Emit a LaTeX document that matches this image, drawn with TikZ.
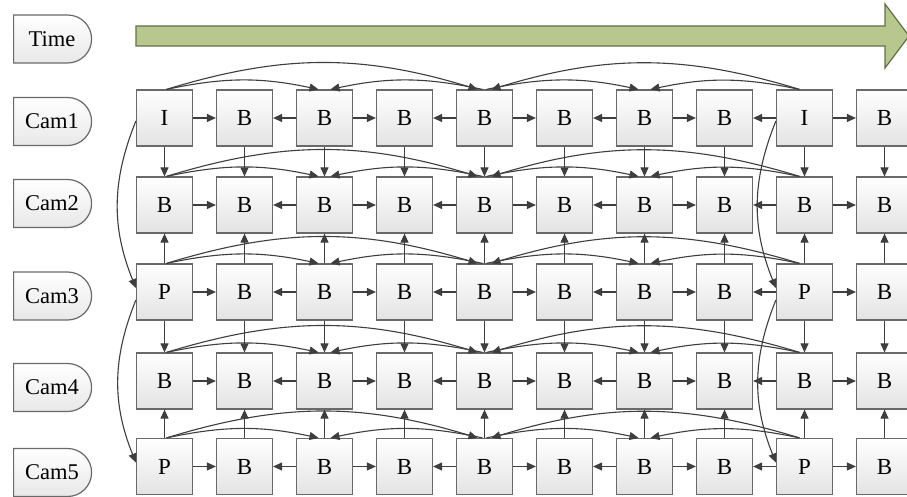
\documentclass[tikz,border=0pt]{standalone}
\usepackage{fontspec}
\setmainfont{Liberation Serif}
\usetikzlibrary{arrows.meta,shapes.misc,calc}
\definecolor{arrowgreen}{RGB}{184,199,142}
\definecolor{arrowedge}{RGB}{98,110,72}
\definecolor{boxedge}{RGB}{105,105,105}
\definecolor{lineclr}{RGB}{62,62,62}
\begin{document}
\begin{tikzpicture}[x=1pt,y=1pt,
  frame/.style={draw=boxedge, line width=1.2pt, minimum width=56pt, minimum height=56pt, inner sep=0pt, top color=white, bottom color=black!11, font=\fontsize{23}{26}\selectfont},
  camlab/.style={rounded rectangle, rounded rectangle left arc=none, draw=boxedge, line width=1.2pt, minimum width=78pt, minimum height=48pt, inner sep=0pt, top color=white, bottom color=black!9, font=\fontsize{22.5}{26}\selectfont},
  link/.style={draw=lineclr, line width=1.1pt, -{Triangle[length=9pt,width=8pt]}},
]
\clip (0,0) rectangle (907,-497);
\fill[white] (0,0) rectangle (907,-497);
% time arrow
\draw[fill=arrowgreen, draw=arrowedge, line width=1.2pt, line join=miter]
  (136,-26) -- (885,-26) -- (885,-4) -- (909,-36) -- (885,-68) -- (885,-46) -- (136,-46) -- cycle;
% labels
\node[camlab] (time) at (52,-39) {Time};
\foreach \n/\y in {1/121.5,2/203.5,3/296,4/387.5,5/472.5}
  \node[camlab] (cam\n) at (52,-\y) {Cam\n};
% frames
\foreach \r/\y/\e in {1/118/I,2/205/B,3/292/P,4/381/B,5/466.5/P}{
  \foreach \c/\t in {0/\e,1/B,2/B,3/B,4/B,5/B,6/B,7/B,8/\e,9/B}{
    \node[frame] (n\r\c) at ({164.5+80*\c},-\y) {\t};
  }
}
% horizontal links and arcs
\foreach \r in {1,...,5}{
  \foreach \s/\d in {0/1,2/1,2/3,4/3,4/5,6/5,6/7,8/7,8/9}
    \draw[link] (n\r\s) -- (n\r\d);
  \draw[link] ($(n\r0.north)+(2,0)$) to[bend left=12] ($(n\r2.north)+(-6,0)$);
  \draw[link] ($(n\r0.north)+(2,0)$) to[bend left=17] ($(n\r4.north)+(-7,0)$);
  \draw[link] ($(n\r4.north)+(-2,0)$) to[bend right=12] ($(n\r2.north)+(6,0)$);
  \draw[link] ($(n\r8.north)+(-5,0)$) to[bend right=17] ($(n\r4.north)+(7,0)$);
  \draw[link] ($(n\r4.north)+(2,0)$) to[bend left=12] ($(n\r6.north)+(-6,0)$);
  \draw[link] ($(n\r8.north)+(-5,0)$) to[bend right=12] ($(n\r6.north)+(6,0)$);
}
% vertical links
\foreach \c in {0,...,9}{
  \draw[link] (n1\c) -- (n2\c);
  \draw[link] (n3\c) -- (n2\c);
  \draw[link] (n3\c) -- (n4\c);
  \draw[link] (n5\c) -- (n4\c);
}
% inter-camera curves
\foreach \c in {0,8}{
  \draw[link] ($(n1\c.west)+(0,-3)$) to[bend right=22] ($(n3\c.west)+(0,4)$);
  \draw[link] ($(n3\c.west)+(0,-8)$) to[bend right=22] ($(n5\c.west)+(0,4)$);
}
\end{tikzpicture}
\end{document}
